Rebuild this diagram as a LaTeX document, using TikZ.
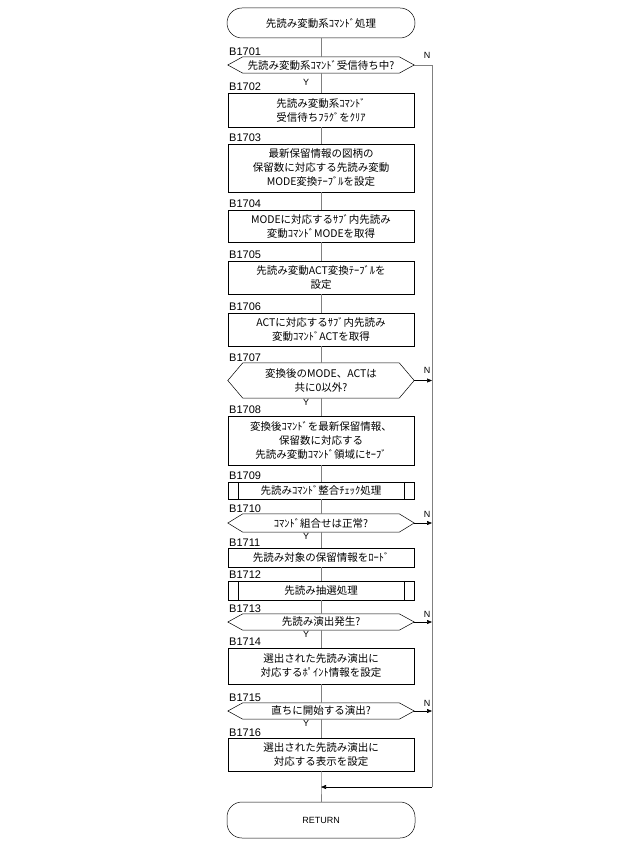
\documentclass[tikz,border=0pt]{standalone}
\usepackage{fontspec}
\setmainfont{Liberation Sans}
\newfontfamily\jp{Noto Sans CJK JP}
\usetikzlibrary{calc,arrows.meta}
\begin{document}
\begin{tikzpicture}[x=1pt,y=-1pt,
  box/.style={draw,line width=0.5pt,minimum width=186pt,inner sep=0pt,align=center,font=\jp\fontsize{10.5}{14}\selectfont},
  hex/.style={minimum width=186pt,inner sep=0pt,align=center,font=\jp\fontsize{10.5}{14}\selectfont},
  term/.style={draw,line width=0.5pt,rounded corners=15pt,minimum width=188pt,inner sep=0pt,font=\jp\fontsize{10.5}{12}\selectfont},
  lab/.style={anchor=south west,inner sep=0pt,font=\fontsize{11}{12}\selectfont},
  yn/.style={inner sep=0pt,font=\fontsize{9}{10}\selectfont},
  flow/.style={gray,line width=0.6pt},
  arr/.style={flow,-{Triangle[length=5pt,width=4pt]},black}]
\useasboundingbox (0,0) rectangle (640,866);
\newcommand\hexdraw[1]{\draw[line width=0.5pt] (#1.west) -- ($(#1.north west)+(15,0)$) -- ($(#1.north east)+(-15,0)$) -- (#1.east) -- ($(#1.south east)+(-15,0)$) -- ($(#1.south west)+(15,0)$) -- cycle;}
\newcommand\pp[1]{\draw[line width=0.5pt] ($(#1.north west)+(10,0)$) -- ($(#1.south west)+(10,0)$) ($(#1.north east)+(-10,0)$) -- ($(#1.south east)+(-10,0)$);}
\def\cx{321}
\node[term,minimum height=30pt] (t) at (\cx,23) {先読み変動系ｺﾏﾝﾄﾞ処理};
\node[hex,minimum height=16pt] (d1) at (\cx,65) {先読み変動系ｺﾏﾝﾄﾞ受信待ち中?}; \hexdraw{d1}
\node[box,minimum height=34pt] (b2) at (\cx,110) {先読み変動系ｺﾏﾝﾄﾞ\\受信待ちﾌﾗｸﾞをｸﾘｱ};
\node[box,minimum height=48pt] (b3) at (\cx,168) {最新保留情報の図柄の\\保留数に対応する先読み変動\\MODE変換ﾃｰﾌﾞﾙを設定};
\node[box,minimum height=32pt] (b4) at (\cx,226) {MODEに対応するｻﾌﾞ内先読み\\変動ｺﾏﾝﾄﾞMODEを取得};
\node[box,minimum height=33pt] (b5) at (\cx,277.5) {先読み変動ACT変換ﾃｰﾌﾞﾙを\\設定};
\node[box,minimum height=33pt] (b6) at (\cx,329.5) {ACTに対応するｻﾌﾞ内先読み\\変動ｺﾏﾝﾄﾞACTを取得};
\node[hex,minimum height=35pt] (d7) at (\cx,380.5) {変換後のMODE、ACTは\\共に0以外?}; \hexdraw{d7}
\node[box,minimum height=49pt] (b8) at (\cx,440.5) {変換後ｺﾏﾝﾄﾞを最新保留情報、\\保留数に対応する\\先読み変動ｺﾏﾝﾄﾞ領域にｾｰﾌﾞ};
\node[box,minimum height=17pt] (b9) at (\cx,490.5) {先読みｺﾏﾝﾄﾞ整合ﾁｪｯｸ処理}; \pp{b9}
\node[hex,minimum height=18pt] (d10) at (\cx,523) {ｺﾏﾝﾄﾞ組合せは正常?}; \hexdraw{d10}
\node[box,minimum height=19pt] (b11) at (\cx,557.5) {先読み対象の保留情報をﾛｰﾄﾞ};
\node[box,minimum height=19pt] (b12) at (\cx,590.5) {先読み抽選処理}; \pp{b12}
\node[hex,minimum height=16pt] (d13) at (\cx,622) {先読み演出発生?}; \hexdraw{d13}
\node[box,minimum height=36pt] (b14) at (\cx,666) {選出された先読み演出に\\対応するﾎﾟｲﾝﾄ情報を設定};
\node[hex,minimum height=16pt] (d15) at (\cx,711) {直ちに開始する演出?}; \hexdraw{d15}
\node[box,minimum height=33pt] (b16) at (\cx,754.5) {選出された先読み演出に\\対応する表示を設定};
\node[term,minimum height=36pt] (r) at (\cx,820) {\fontspec{Liberation Sans}\fontsize{9}{10}\selectfont RETURN};
\coordinate (m) at (\cx,787);
\coordinate (rc) at (432,787);
\coordinate (rt) at (432,65);
\foreach \n/\y in {B1701/56,B1702/91,B1703/142,B1704/208,B1705/259,B1706/311,B1707/362,B1708/414,B1709/480,B1710/513,B1711/547,B1712/579,B1713/613,B1714/646,B1715/702,B1716/737}
  \node[lab] at (229,\y) {\n};
\foreach \y in {82,402,536,634,723} \node[yn] at (306,\y) {Y};
\foreach \y in {55,370,514,614,703} \node[yn] at (427,\y) {N};
\draw[flow] (t) -- (d1) -- (b2) -- (b3) -- (b4) -- (b5) -- (b6) -- (d7) -- (b8) -- (b9) -- (d10) -- (b11) -- (b12) -- (d13) -- (b14) -- (d15) -- (b16) -- (m) -- (r);
\draw[flow] (d1.east) -- (rt) -- (rc);
\draw[arr] (rc) -- (m);
\foreach \d in {d7,d10,d13,d15} \draw[arr] (\d.east) -- (\d.east -| rc);
\end{tikzpicture}
\end{document}
